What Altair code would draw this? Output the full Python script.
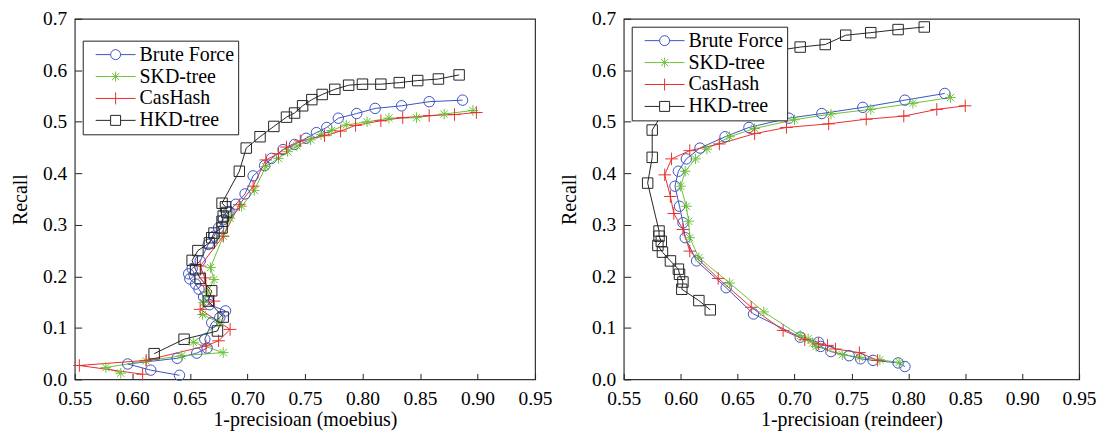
import altair as alt
import pandas as pd

SERIES = ["Brute Force", "SKD-tree", "CasHash", "HKD-tree"]
COLORS = ["#3d52c4", "#6cc23a", "#e8302f", "#262626"]
X_TICKS = [0.55, 0.60, 0.65, 0.70, 0.75, 0.80, 0.85, 0.90, 0.95]
Y_TICKS = [0.0, 0.1, 0.2, 0.3, 0.4, 0.5, 0.6, 0.7]

# ---- moebius (left panel) ----
m_bf_x = [0.887, 0.858, 0.834, 0.811, 0.795, 0.779, 0.769, 0.760, 0.751, 0.741, 0.731, 0.721, 0.715,
          0.705, 0.698, 0.690, 0.684, 0.679, 0.675, 0.671, 0.666, 0.659, 0.652, 0.649, 0.650, 0.655,
          0.658, 0.662, 0.667, 0.681, 0.676, 0.669, 0.663, 0.665, 0.656, 0.639, 0.596, 0.616, 0.641]
m_bf_y = [0.542, 0.539, 0.531, 0.526, 0.516, 0.507, 0.489, 0.479, 0.468, 0.456, 0.446, 0.429, 0.415,
          0.395, 0.360, 0.340, 0.326, 0.310, 0.294, 0.278, 0.262, 0.230, 0.215, 0.205, 0.195, 0.185,
          0.175, 0.160, 0.145, 0.133, 0.120, 0.110, 0.078, 0.061, 0.051, 0.041, 0.030, 0.018, 0.008]
m_skd_x = [0.896, 0.871, 0.847, 0.823, 0.804, 0.786, 0.773, 0.764, 0.755, 0.743, 0.735, 0.727, 0.716,
           0.706, 0.695, 0.685, 0.679, 0.668, 0.671, 0.665, 0.662, 0.661, 0.676, 0.653, 0.679, 0.643,
           0.612, 0.577, 0.590]
m_skd_y = [0.522, 0.515, 0.508, 0.507, 0.500, 0.494, 0.483, 0.475, 0.465, 0.453, 0.442, 0.429, 0.413,
           0.367, 0.336, 0.313, 0.278, 0.217, 0.194, 0.168, 0.149, 0.126, 0.110, 0.072, 0.052, 0.046,
           0.036, 0.023, 0.012]
m_cas_x = [0.899, 0.880, 0.858, 0.835, 0.816, 0.794, 0.781, 0.767, 0.746, 0.734, 0.727, 0.716, 0.705,
           0.693, 0.679, 0.659, 0.663, 0.664, 0.671, 0.659, 0.685, 0.675, 0.664, 0.612, 0.554, 0.609]
m_cas_y = [0.518, 0.514, 0.512, 0.508, 0.502, 0.493, 0.482, 0.473, 0.463, 0.451, 0.438, 0.426, 0.375,
           0.339, 0.278, 0.220, 0.197, 0.182, 0.152, 0.136, 0.097, 0.075, 0.065, 0.037, 0.027, 0.010]
m_hkd_x = [0.884, 0.866, 0.848, 0.832, 0.816, 0.800, 0.788, 0.776, 0.765, 0.756, 0.748, 0.741, 0.734,
           0.723, 0.711, 0.699, 0.693, 0.678, 0.681, 0.682, 0.679, 0.678, 0.678, 0.671, 0.669, 0.667,
           0.657, 0.652, 0.655, 0.659, 0.669, 0.666, 0.679, 0.674, 0.645, 0.619]
m_hkd_y = [0.591, 0.583, 0.580, 0.576, 0.573, 0.573, 0.571, 0.563, 0.553, 0.543, 0.531, 0.517, 0.509,
           0.491, 0.471, 0.449, 0.404, 0.342, 0.335, 0.324, 0.317, 0.307, 0.294, 0.284, 0.275, 0.265,
           0.250, 0.231, 0.213, 0.196, 0.172, 0.152, 0.121, 0.094, 0.078, 0.050]

# ---- reindeer (right panel) ----
r_bf_x = [0.832, 0.797, 0.760, 0.724, 0.695, 0.660, 0.639, 0.617, 0.605, 0.598, 0.595, 0.599, 0.602,
          0.604, 0.614, 0.640, 0.664, 0.705, 0.721, 0.723, 0.732, 0.748, 0.758, 0.769, 0.791, 0.797]
r_bf_y = [0.555, 0.542, 0.528, 0.516, 0.507, 0.489, 0.471, 0.449, 0.428, 0.404, 0.375, 0.336, 0.304,
          0.275, 0.230, 0.178, 0.127, 0.082, 0.072, 0.064, 0.054, 0.046, 0.040, 0.037, 0.032, 0.025]
r_skd_x = [0.837, 0.804, 0.767, 0.732, 0.700, 0.665, 0.643, 0.623, 0.613, 0.604, 0.600, 0.605, 0.607,
           0.608, 0.616, 0.643, 0.673, 0.705, 0.712, 0.716, 0.719, 0.742, 0.757, 0.775, 0.792]
r_skd_y = [0.547, 0.536, 0.524, 0.515, 0.504, 0.487, 0.471, 0.447, 0.428, 0.404, 0.375, 0.336, 0.307,
           0.275, 0.236, 0.187, 0.131, 0.085, 0.079, 0.071, 0.064, 0.048, 0.043, 0.038, 0.033]
r_cas_x = [0.850, 0.825, 0.796, 0.763, 0.730, 0.693, 0.665, 0.634, 0.608, 0.592, 0.586, 0.591, 0.594,
           0.602, 0.608, 0.633, 0.662, 0.690, 0.709, 0.721, 0.729, 0.736, 0.757, 0.773]
r_cas_y = [0.531, 0.524, 0.511, 0.505, 0.496, 0.489, 0.477, 0.457, 0.444, 0.428, 0.397, 0.355, 0.322,
           0.291, 0.249, 0.196, 0.140, 0.095, 0.077, 0.069, 0.066, 0.059, 0.052, 0.037]
r_hkd_x = [0.814, 0.791, 0.767, 0.745, 0.727, 0.705, 0.687, 0.655, 0.625, 0.600, 0.584, 0.575, 0.575,
           0.571, 0.581, 0.581, 0.583, 0.580, 0.584, 0.591, 0.598, 0.599, 0.602, 0.601, 0.616, 0.626]
r_hkd_y = [0.684, 0.679, 0.673, 0.668, 0.650, 0.645, 0.639, 0.630, 0.610, 0.570, 0.516, 0.484, 0.431,
           0.381, 0.288, 0.278, 0.268, 0.260, 0.247, 0.230, 0.214, 0.204, 0.189, 0.175, 0.153, 0.135]

FONT = "Liberation Serif"

P_CIRCLE = "M1,0A1,1,0,1,1,-1,0A1,1,0,1,1,1,0Z"
P_STAR = "M-1,0H1M0,-1V1M-0.7,-0.7L0.7,0.7M-0.7,0.7L0.7,-0.7"
P_PLUS = "M-1.2,0H1.2M0,-1.2V1.2"
P_SQUARE = "M-1,-1H1V1H-1Z"
SHAPES = [P_CIRCLE, P_STAR, P_PLUS, P_SQUARE]
P_LEGLINE = "M-4,0H-1M1,0H4"
ZWS = "\u200b"  # keeps the line-legend domain distinct so the two legends are not merged
SERIES_L = [s + ZWS for s in SERIES]


def make_df(data):
    rows = []
    for s, sl, (xs, ys) in zip(SERIES, SERIES_L, data):
        for i, (a, b) in enumerate(zip(xs, ys)):
            rows.append({"series": s, "series_l": sl, "x": a, "y": b, "idx": i})
    return pd.DataFrame(rows)


def common_legend(lx, ly, **kw):
    return alt.Legend(
        title=None, orient="none", legendX=lx, legendY=ly, padding=4,
        symbolSize=100, symbolStrokeWidth=1, symbolOffset=19, labelOffset=14,
        labelFont=FONT, labelFontSize=20, labelColor="black", rowPadding=2, **kw)


def panel(df, xtitle, W, H, lx, ly):
    xs = alt.Scale(domain=[0.55, 0.95], nice=False, zero=False)
    ys = alt.Scale(domain=[0.0, 0.7], nice=False, zero=False)
    cs = alt.Scale(domain=SERIES, range=COLORS)
    cls = alt.Scale(domain=SERIES_L, range=COLORS)
    ss = alt.Scale(domain=SERIES, range=SHAPES)
    leg_lines = common_legend(lx, ly, fillColor="white", strokeColor="#222222",
                              symbolType=P_LEGLINE, zindex=1)
    leg_marks = common_legend(lx, ly, labelOpacity=0, zindex=2)
    base = alt.Chart(df)
    lines = base.mark_line(strokeWidth=1).encode(
        x=alt.X("x:Q", scale=xs, axis=alt.Axis(values=X_TICKS, format=".2f", title=xtitle,
                                              ticks=False, tickSize=0, domain=False, grid=False,
                                              labelFlush=False, labelPadding=10, titlePadding=2,
                                              labelFontSize=19.5, titleFontSize=20)),
        y=alt.Y("y:Q", scale=ys, axis=alt.Axis(values=Y_TICKS, format=".1f", title="Recall",
                                              ticks=False, tickSize=0, domain=False, grid=False,
                                              labelFlush=False, labelPadding=8, titlePadding=12,
                                              labelFontSize=19.5, titleFontSize=20)),
        stroke=alt.Stroke("series_l:N", scale=cls, legend=leg_lines),
        detail="series:N",
        order="idx:Q",
    )
    points = base.mark_point(filled=False, size=110, strokeWidth=1, opacity=1).encode(
        x=alt.X("x:Q", scale=xs, axis=alt.Axis(values=X_TICKS, orient="top", offset=-H, labels=False,
                                              domain=False, grid=False, ticks=True, tickSize=6,
                                              tickColor="#222222", title=None)),
        y=alt.Y("y:Q", scale=ys, axis=alt.Axis(values=Y_TICKS, orient="right", offset=-W, labels=False,
                                              domain=False, grid=False, ticks=True, tickSize=7,
                                              tickColor="#222222", title=None)),
        color=alt.Color("series:N", scale=cs, legend=leg_marks),
        shape=alt.Shape("series:N", scale=ss, legend=leg_marks),
    )
    return alt.layer(lines, points).resolve_axis(x="independent", y="independent").properties(
        width=W, height=H)


left = panel(make_df([(m_bf_x, m_bf_y), (m_skd_x, m_skd_y), (m_cas_x, m_cas_y), (m_hkd_x, m_hkd_y)]),
             "1-precisioan (moebius)", 462, 362, 8, 22)
right = panel(make_df([(r_bf_x, r_bf_y), (r_skd_x, r_skd_y), (r_cas_x, r_cas_y), (r_hkd_x, r_hkd_y)]),
              "1-precisioan (reindeer)", 457, 362, 8, 8)

chart = alt.hconcat(left, right, spacing=6).resolve_scale(
    color="independent", shape="independent", stroke="independent"
).resolve_legend(color="independent", shape="independent", stroke="independent").properties(
    padding={"left": 2, "top": -1, "right": 5, "bottom": 0}, background="white"
).configure_view(stroke="#333333", strokeWidth=1.2).configure_axis(
    labelFont=FONT, titleFont=FONT, labelColor="black", titleColor="black",
    titleFontWeight="normal", grid=False
)

chart.save("out.html", embed_options={"renderer": "svg", "actions": False})
